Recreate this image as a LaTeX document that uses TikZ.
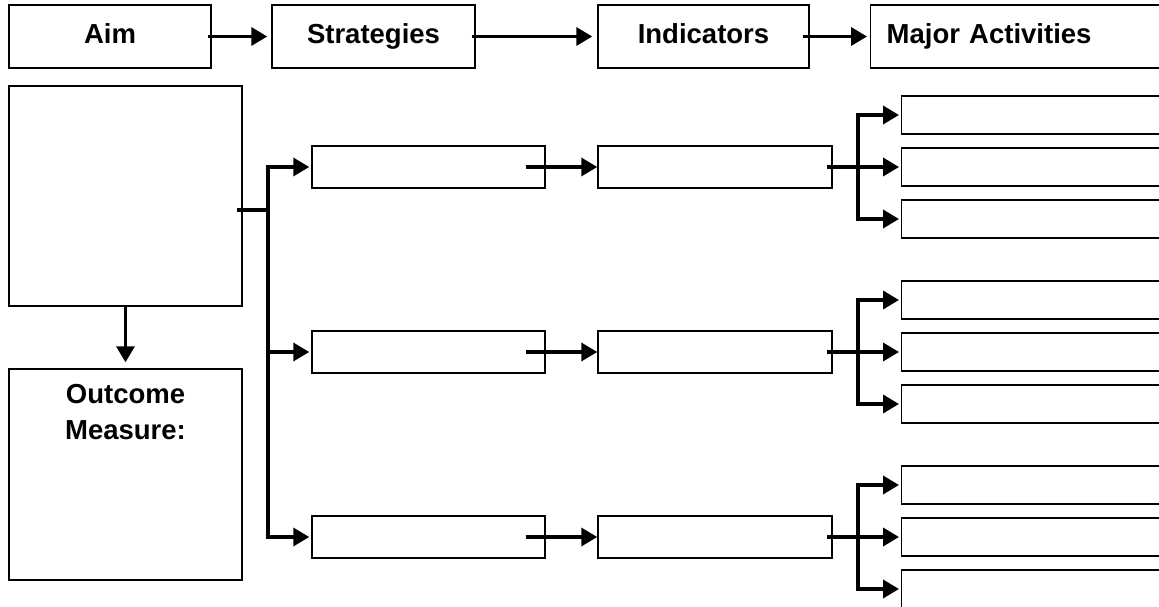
\documentclass[tikz,border=0pt]{standalone}
\usepackage{fontspec}
\setmainfont{Liberation Sans}
\usetikzlibrary{arrows.meta}

\tikzset{
    box/.style={draw, rectangle, line width=1.4pt, inner sep=0pt},
    head/.style={box, minimum height=63pt, text height=20pt, text depth=6pt, font=\fontsize{27.5}{36}\selectfont\bfseries},
    link/.style={line width=3.5pt, -{Triangle[length=16pt,width=18pt]}},
    bar/.style={line width=3.5pt}
}

\begin{document}
\begin{tikzpicture}[x=1pt,y=-1pt]
            \useasboundingbox (0,0) rectangle (1159,607);
            \clip (0,0) rectangle (1159,607);

            % header row
            \begin{scope}
                \node[head, minimum width=202pt] (A) at (110,36.5) {Aim};
                \node[head, minimum width=203pt] (S) at (373.5,36.5) {Strategies};
                \node[head, minimum width=211pt] (I) at (703.5,36.5) {Indicators};
                \node[head, anchor=west, inner xsep=16pt, text width=300pt, align=left] (M) at (870,36.5) {Major Activities};
            \end{scope}

            \begin{scope}
                \draw[link, shorten >=4pt] ([xshift=-4pt]A.east) -- (S.west);
                \draw[link, shorten >=5pt] ([xshift=-4pt]S.east) -- (I.west);
                \draw[link, shorten >=3pt] ([xshift=-7pt]I.east) -- (M.west);
            \end{scope}

            % aim and outcome
            \node[box, minimum width=233pt, minimum height=220pt] (G) at (125.5,196) {};
            \node[box, minimum width=233pt, minimum height=211pt] (O) at (125.5,474.5) {};
            \node[anchor=north, inner sep=0pt, align=center, font=\fontsize{27.5}{36}\selectfont\bfseries] (Otext) at ([yshift=-16pt]O.north) {Outcome\\Measure:};
            \draw[link, shorten >=6pt] (G.south) -- (O.north);

            \coordinate (J) at (268,210);
            \draw[bar] ([xshift=-6pt]G.east |- J) -- (J);

            % strategies, indicators, activities
            \foreach \n/\y in {1/167,2/352,3/537} {
                \node[box, minimum width=233pt, minimum height=42pt] (s\n) at (428.5,\y) {};
                \node[box, minimum width=234pt, minimum height=42pt] (i\n) at (715,\y) {};
                \foreach \d/\m in {-52/t,0/m,52/b}
                    \node[box, anchor=west, minimum width=300pt, minimum height=38pt] (a\n\m) at (901,{\y+\d}) {};
                \coordinate (b\n) at (858,\y);

                \draw[link, shorten >=2pt] (J) |- (s\n.west);
                \draw[link] ([xshift=-20pt]s\n.east) -- (i\n.west);
                \draw[link, shorten >=2pt] ([xshift=-6pt]i\n.east) -- (a\n m.west);
                \draw[link, shorten >=2pt] (b\n) |- (a\n t.west);
                \draw[link, shorten >=2pt] (b\n) |- (a\n b.west);
            }
\end{tikzpicture}
\end{document}
